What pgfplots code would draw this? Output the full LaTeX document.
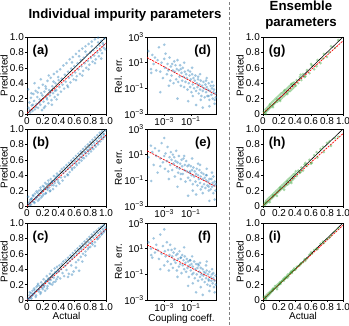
\documentclass[border=0pt]{standalone}
\usepackage{fontspec}
\setmainfont{Liberation Sans}
\usepackage{pgfplots}
\pgfplotsset{compat=1.18}
\usepackage{pgfplotstable}

\definecolor{mblue}{HTML}{1F77B4}
\definecolor{mgreen}{HTML}{2CA02C}

% actual vs predicted, panels (a) (b) (c)
\pgfplotstableread{
x a b c
0.02 0.08 0.03 0.01
0.03 0.15 0.05 0.06
0.04 0.02 0.08 0.03
0.05 0.21 0.02 0.09
0.06 0.11 0.10 0.05
0.07 0.04 0.06 0.12
0.08 0.26 0.13 0.07
0.09 0.17 0.05 0.15
0.10 0.06 0.16 0.10
0.11 0.30 0.09 0.04
0.12 0.13 0.19 0.17
0.13 0.22 0.12 0.13
0.14 0.08 0.07 0.21
0.15 0.34 0.20 0.11
0.16 0.19 0.14 0.18
0.17 0.12 0.24 0.08
0.18 0.27 0.11 0.23
0.19 0.05 0.18 0.16
0.20 0.38 0.26 0.14
0.21 0.16 0.15 0.27
0.22 0.29 0.22 0.19
0.23 0.10 0.30 0.12
0.24 0.33 0.17 0.25
0.25 0.21 0.28 0.31
0.26 0.43 0.21 0.18
0.27 0.14 0.33 0.28
0.28 0.31 0.24 0.22
0.29 0.24 0.19 0.34
0.30 0.47 0.35 0.26
0.31 0.18 0.27 0.38
0.32 0.36 0.31 0.20
0.33 0.27 0.22 0.33
0.34 0.52 0.39 0.29
0.35 0.22 0.30 0.41
0.36 0.40 0.36 0.24
0.37 0.31 0.26 0.36
0.38 0.55 0.42 0.43
0.39 0.25 0.34 0.30
0.40 0.44 0.40 0.37
0.41 0.35 0.29 0.45
0.42 0.58 0.45 0.28
0.43 0.29 0.37 0.40
0.44 0.46 0.48 0.47
0.45 0.38 0.33 0.35
0.46 0.63 0.43 0.50
0.47 0.33 0.50 0.31
0.48 0.51 0.38 0.44
0.49 0.42 0.46 0.52
0.50 0.66 0.53 0.39
0.51 0.37 0.41 0.48
0.52 0.55 0.49 0.55
0.53 0.47 0.56 0.34
0.54 0.71 0.44 0.51
0.55 0.41 0.52 0.58
0.56 0.59 0.59 0.45
0.57 0.50 0.47 0.54
0.58 0.74 0.55 0.61
0.59 0.45 0.62 0.37
0.60 0.62 0.50 0.57
0.61 0.54 0.58 0.64
0.62 0.78 0.65 0.49
0.63 0.49 0.53 0.60
0.64 0.66 0.61 0.67
0.65 0.58 0.68 0.52
0.66 0.82 0.56 0.63
0.67 0.52 0.64 0.70
0.68 0.70 0.71 0.56
0.69 0.62 0.59 0.66
0.70 0.85 0.67 0.73
0.71 0.56 0.74 0.60
0.72 0.73 0.62 0.69
0.73 0.66 0.70 0.76
0.74 0.88 0.77 0.63
0.75 0.60 0.65 0.72
0.76 0.77 0.73 0.79
0.77 0.69 0.80 0.66
0.78 0.91 0.68 0.75
0.79 0.64 0.76 0.82
0.80 0.80 0.83 0.69
0.81 0.73 0.71 0.78
0.82 0.94 0.79 0.85
0.83 0.68 0.86 0.72
0.84 0.83 0.74 0.81
0.85 0.76 0.82 0.88
0.86 0.97 0.89 0.75
0.87 0.71 0.77 0.84
0.88 0.86 0.85 0.90
0.89 0.80 0.92 0.79
0.90 0.99 0.80 0.87
0.91 0.75 0.88 0.93
0.92 0.89 0.95 0.82
0.93 0.83 0.84 0.89
0.94 0.95 0.91 0.95
0.95 0.79 0.97 0.86
0.96 0.92 0.87 0.92
0.97 0.86 0.94 0.97
0.98 0.98 0.90 0.90
0.99 0.84 0.98 0.94
0.015 0.32 0.12 0.02
0.035 0.05 0.01 0.10
0.055 0.27 0.09 0.02
0.075 0.12 0.14 0.08
0.095 0.40 0.04 0.13
0.115 0.09 0.11 0.06
0.135 0.28 0.17 0.19
0.155 0.15 0.09 0.14
0.175 0.45 0.21 0.10
0.195 0.24 0.13 0.20
0.215 0.08 0.25 0.17
0.235 0.36 0.16 0.24
0.255 0.19 0.23 0.15
0.275 0.50 0.29 0.26
0.295 0.28 0.20 0.21
0.315 0.12 0.32 0.30
0.335 0.42 0.27 0.23
0.355 0.30 0.33 0.36
0.375 0.19 0.38 0.27
0.395 0.48 0.31 0.39
0.52 0.35 0.40 0.30
0.57 0.67 0.49 0.33
0.62 0.44 0.55 0.42
0.66 0.75 0.60 0.38
0.70 0.50 0.63 0.50
0.74 0.81 0.69 0.58
0.78 0.58 0.72 0.68
0.82 0.88 0.75 0.74
0.86 0.66 0.79 0.70
0.90 0.93 0.83 0.80
0.94 0.72 0.89 0.85
0.97 0.90 0.93 0.88
}\tabABC

% log10(coupling coeff.) vs log10(rel. err.), panels (d) (e) (f)
\pgfplotstableread{
u d e f
-4.2 1.9 0.8 1.5
-4.0 0.5 1.7 1.0
-3.98 0.2 -1.05 0.5
-3.9 1.6 1.2 0.3
-3.8 0.9 0.2 1.8
-3.7 1.4 1.5 0.7
-3.6 0.4 0.9 1.3
-3.5 1.2 -0.4 0.9
-3.4 2.2 1.3 0.2
-3.3 0.3 0.7 2.1
-3.3 -1.3 0.1 -0.6
-3.2 1.0 1.9 0.6
-3.1 -0.2 0.4 1.2
-3.0 1.3 0.9 -0.3
-3.0 2.4 2.3 2.5
-2.95 0.6 -0.1 0.8
-2.9 1.7 1.1 0.4
-2.8 0.1 0.5 1.5
-2.75 0.9 1.6 0.0
-2.7 0.4 -0.3 0.9
-2.65 -0.8 -0.9 -0.7
-2.6 1.4 0.8 0.5
-2.55 -0.4 0.2 1.3
-2.5 0.7 1.2 -0.2
-2.45 0.0 0.6 0.9
-2.4 0.9 -0.2 0.4
-2.35 0.4 1.0 -0.5
-2.3 -0.6 0.3 0.7
-2.25 1.1 0.8 0.1
-2.2 0.3 -0.7 1.0
-2.15 0.8 0.5 -0.1
-2.1 -0.3 1.3 0.5
-2.05 0.5 0.0 -0.7
-2.0 1.2 0.4 0.6
-2.0 -1.8 -1.5 -1.2
-1.95 -0.5 -0.4 0.2
-1.9 0.4 0.9 -0.4
-1.85 -0.1 -0.1 0.8
-1.8 0.8 0.3 -0.2
-1.75 -0.8 -0.9 0.3
-1.75 0.5 -0.5 0.3
-1.7 0.2 0.6 -0.9
-1.65 -0.4 0.1 0.5
-1.6 0.6 -0.5 -0.3
-1.55 -0.1 0.7 0.1
-1.5 -0.9 -0.2 -0.6
-1.5 1.0 0.9 1.1
-1.45 0.3 0.2 0.4
-1.4 -0.5 -1.1 -0.1
-1.35 0.1 0.5 -0.8
-1.3 -0.2 -0.3 0.2
-1.25 -1.1 0.1 -0.5
-1.2 0.4 -0.8 0.0
-1.2 -2.0 -2.2 -1.9
-1.15 -0.6 0.2 -1.2
-1.1 0.0 -0.4 -0.3
-1.05 -0.9 -1.0 0.1
-1.05 0.3 -0.3 0.1
-1.0 -0.3 0.1 -0.7
-0.95 -1.3 -0.6 -0.2
-0.9 0.1 -0.2 -1.0
-0.9 0.6 0.7 0.4
-0.85 -0.7 -1.3 -0.4
-0.85 -1.6 -1.8 -1.7
-0.8 -0.2 0.0 -0.9
-0.75 -1.0 -0.7 0.0
-0.7 -0.4 -0.3 -1.3
-0.65 0.0 -1.1 -0.6
-0.6 -1.2 -0.5 -0.2
-0.6 -2.3 -2.1 -2.4
-0.55 -0.6 -0.1 -1.0
-0.5 -0.9 -1.4 -0.5
-0.45 -0.3 -0.6 -1.5
-0.45 -0.1 0.3 -0.2
-0.4 -1.4 -0.9 -0.3
-0.35 -0.7 -0.2 -0.8
-0.3 -1.1 -1.2 -1.2
-0.3 0.1 0.2 -0.1
-0.25 -0.4 -0.7 -0.5
-0.25 -1.9 -1.7 -2.0
-0.2 -1.6 -0.4 -1.0
-0.15 -0.8 -1.5 -1.4
-0.1 -1.2 -0.9 -0.6
-0.1 -2.5 -2.0 -2.6
-0.05 -0.5 -0.5 -1.1
0.0 -1.0 -1.3 -0.8
0.05 -1.7 -0.8 -1.6
0.1 -0.7 -1.6 -0.9
0.15 -1.3 -1.0 -1.3
0.15 -0.4 -0.6 -0.3
0.2 -0.9 -0.6 -0.7
0.2 -0.2 -0.1 0.0
0.25 -1.6 -1.4 -1.8
0.3 -1.1 -1.1 -1.0
0.35 -0.6 -1.8 -1.4
0.35 -1.6 -1.5 -1.5
0.4 -1.9 -0.9 -0.8
0.4 -2.4 -2.6 -2.3
0.45 -1.2 -1.3 -1.9
0.5 -0.8 -1.7 -1.2
0.55 -1.5 -0.9 -1.5
0.6 -1.0 -1.5 -1.0
0.6 -0.5 -0.4 -0.6
0.65 -1.8 -1.2 -1.7
0.7 -1.3 -2.0 -1.3
0.7 -0.8 -0.7 -0.9
0.75 -1.1 -1.4 -2.0
0.8 -1.9 -1.1 -1.5
0.8 -2.2 -2.5 -2.4
0.85 -1.4 -1.8 -1.1
0.88 -1.7 -1.3 -1.8
}\tabDEF

% ensemble parameters, panels (g) (h) (i)
\pgfplotstableread{
x g h i
0.01 0.03 0.01 0.04
0.02 0.01 0.04 0.02
0.03 0.06 0.02 0.05
0.04 0.03 0.07 0.03
0.05 0.08 0.04 0.07
0.06 0.05 0.09 0.05
0.07 0.10 0.06 0.09
0.08 0.07 0.11 0.07
0.09 0.13 0.08 0.11
0.10 0.09 0.13 0.10
0.11 0.15 0.10 0.13
0.12 0.11 0.15 0.12
0.13 0.17 0.12 0.14
0.14 0.13 0.17 0.15
0.15 0.19 0.14 0.18
0.16 0.15 0.19 0.16
0.17 0.21 0.16 0.19
0.18 0.16 0.21 0.17
0.19 0.23 0.18 0.21
0.20 0.18 0.23 0.20
0.21 0.25 0.20 0.23
0.22 0.19 0.25 0.21
0.23 0.27 0.22 0.24
0.24 0.21 0.27 0.25
0.25 0.28 0.23 0.27
0.26 0.23 0.29 0.25
0.27 0.31 0.25 0.29
0.28 0.25 0.31 0.28
0.29 0.32 0.27 0.30
0.30 0.27 0.33 0.31
0.31 0.34 0.28 0.33
0.32 0.29 0.35 0.31
0.33 0.36 0.30 0.34
0.34 0.30 0.37 0.35
0.35 0.38 0.32 0.37
0.36 0.32 0.39 0.35
0.37 0.40 0.34 0.38
0.38 0.34 0.41 0.39
0.39 0.41 0.36 0.41
0.40 0.36 0.42 0.39
0.42 0.44 0.39 0.43
0.44 0.40 0.46 0.44
0.46 0.48 0.43 0.45
0.48 0.44 0.50 0.48
0.50 0.52 0.46 0.49
0.52 0.48 0.54 0.53
0.55 0.57 0.52 0.54
0.58 0.53 0.60 0.59
0.61 0.63 0.56 0.60
0.64 0.58 0.66 0.65
0.68 0.70 0.63 0.66
0.72 0.66 0.74 0.73
0.76 0.78 0.70 0.74
0.80 0.74 0.82 0.79
0.85 0.88 0.78 0.84
0.90 0.86 0.88 0.89
0.035 0.00 0.05 0.01
0.085 0.12 0.05 0.09
0.125 0.09 0.14 0.15
0.175 0.19 0.13 0.14
0.215 0.17 0.24 0.22
0.265 0.30 0.21 0.27
0.305 0.26 0.32 0.29
0.355 0.39 0.30 0.36
0.41 0.37 0.45 0.40
0.47 0.51 0.44 0.47
0.53 0.49 0.56 0.51
0.60 0.65 0.55 0.62
0.67 0.62 0.70 0.67
0.75 0.72 0.77 0.76
0.83 0.80 0.84 0.81
0.94 0.96 0.90 0.93
}\tabGHI

\tikzset{plab/.style={font=\bfseries\fontsize{13}{13}\selectfont, inner sep=0pt}}

\pgfplotsset{
  panel/.style={scale only axis, anchor=north west,
    axis line style={line width=0.8pt},
    tick align=outside, xtick pos=bottom, ytick pos=left,
    major tick length=2bp, minor tick length=0pt,
    every tick/.style={black, line width=0.5pt},
    tick label style={font=\fontsize{10}{11}\selectfont, inner sep=1bp},
    label style={font=\fontsize{10}{11}\selectfont, inner sep=1bp},
    /pgf/number format/assume math mode=true,
  },
  pva/.style={panel, height=77bp, xmin=0, xmax=1, ymin=0, ymax=1,
    xtick={0,0.2,0.4,0.6,0.8,1}, xticklabels={0,0.2,0.4,0.6,0.8,1.0},
    ytick={0,0.2,0.4,0.6,0.8,1}, yticklabels={0,0.2,0.4,0.6,0.8,1.0},
    ylabel={Predicted}},
  rel/.style={panel, width=69bp, height=77bp,
    xmin=-4.3, xmax=0.9, ymin=-3, ymax=3,
    xtick={-3,-1}, xticklabels={10\textsuperscript{−3},10\textsuperscript{−1}},
    ytick={-3,-1,1,3},
    yticklabels={10\textsuperscript{−3},10\textsuperscript{−1},10\textsuperscript{1},10\textsuperscript{3}},
    ylabel={Rel. err.}},
  dots/.style={only marks, mark=*, mark size=1.45bp,
    mark options={draw opacity=0, fill opacity=0.42}},
  ident/.style={black, line width=0.6pt},
  fitline/.style={red, line width=0.7pt, dash pattern=on 2bp off 1bp},
}

\begin{document}
\begin{tikzpicture}
\useasboundingbox (0,0) rectangle (349bp,-326bp);

\node[font=\bfseries\fontsize{13.3}{14}\selectfont] at (125bp,-15bp) {Individual impurity parameters};
\node[font=\bfseries\fontsize{13.3}{16}\selectfont, align=center] at (301bp,-15bp) {Ensemble\\parameters};
\draw[gray, line width=0.8pt, dash pattern=on 3bp off 2bp] (229bp,-2bp) -- (229bp,-326bp);

% column 1
\begin{axis}[pva, width=79bp, at={(27bp,-37bp)}]
\addplot[dots, mblue] table[x=x, y=a] {\tabABC};
\addplot[ident] coordinates {(0,0) (1,1)};
\addplot[fitline] coordinates {(0,0.01) (1,0.92)};
\node[plab, anchor=north west] at (rel axis cs:0.07,0.9) {(a)};
\end{axis}
\begin{axis}[pva, width=79bp, at={(27bp,-129bp)}]
\addplot[dots, mblue] table[x=x, y=b] {\tabABC};
\addplot[ident] coordinates {(0,0) (1,1)};
\addplot[fitline] coordinates {(0,0.0) (1,0.92)};
\node[plab, anchor=north west] at (rel axis cs:0.07,0.9) {(b)};
\end{axis}
\begin{axis}[pva, width=79bp, at={(27bp,-223bp)}, xlabel={Actual}]
\addplot[dots, mblue] table[x=x, y=c] {\tabABC};
\addplot[ident] coordinates {(0,0) (1,1)};
\addplot[fitline] coordinates {(0,0.0) (1,0.92)};
\node[plab, anchor=north west] at (rel axis cs:0.07,0.9) {(c)};
\end{axis}

% column 2
\begin{axis}[rel, at={(147bp,-37bp)}]
\addplot[dots, mblue] table[x=u, y=d] {\tabDEF};
\addplot[fitline] coordinates {(-4.3,1.4) (0.9,-1.5)};
\node[plab, anchor=north east] at (rel axis cs:0.93,0.9) {(d)};
\end{axis}
\begin{axis}[rel, at={(147bp,-129bp)}]
\addplot[dots, mblue] table[x=u, y=e] {\tabDEF};
\addplot[fitline] coordinates {(-4.3,1.3) (0.9,-1.5)};
\node[plab, anchor=north east] at (rel axis cs:0.93,0.9) {(e)};
\end{axis}
\begin{axis}[rel, at={(147bp,-223bp)}, xlabel={Coupling coeff.}]
\addplot[dots, mblue] table[x=u, y=f] {\tabDEF};
\addplot[fitline] coordinates {(-4.3,1.3) (0.9,-1.5)};
\node[plab, anchor=north east] at (rel axis cs:0.93,0.9) {(f)};
\end{axis}

% column 3
\begin{axis}[pva, width=80bp, at={(263bp,-37bp)}]
\addplot[dots, mgreen] table[x=x, y=g] {\tabGHI};
\addplot[ident] coordinates {(0,0) (1,1)};
\addplot[fitline] coordinates {(0,0.01) (1,0.95)};
\node[plab, anchor=north west] at (rel axis cs:0.07,0.9) {(g)};
\end{axis}
\begin{axis}[pva, width=80bp, at={(263bp,-129bp)}]
\addplot[dots, mgreen] table[x=x, y=h] {\tabGHI};
\addplot[ident] coordinates {(0,0) (1,1)};
\addplot[fitline] coordinates {(0,0.01) (1,0.94)};
\node[plab, anchor=north west] at (rel axis cs:0.07,0.9) {(h)};
\end{axis}
\begin{axis}[pva, width=80bp, at={(263bp,-223bp)}, xlabel={Actual}]
\addplot[dots, mgreen] table[x=x, y=i] {\tabGHI};
\addplot[ident] coordinates {(0,0) (1,1)};
\addplot[fitline] coordinates {(0,0.01) (1,0.97)};
\node[plab, anchor=north west] at (rel axis cs:0.07,0.9) {(i)};
\end{axis}
\end{tikzpicture}
\end{document}
